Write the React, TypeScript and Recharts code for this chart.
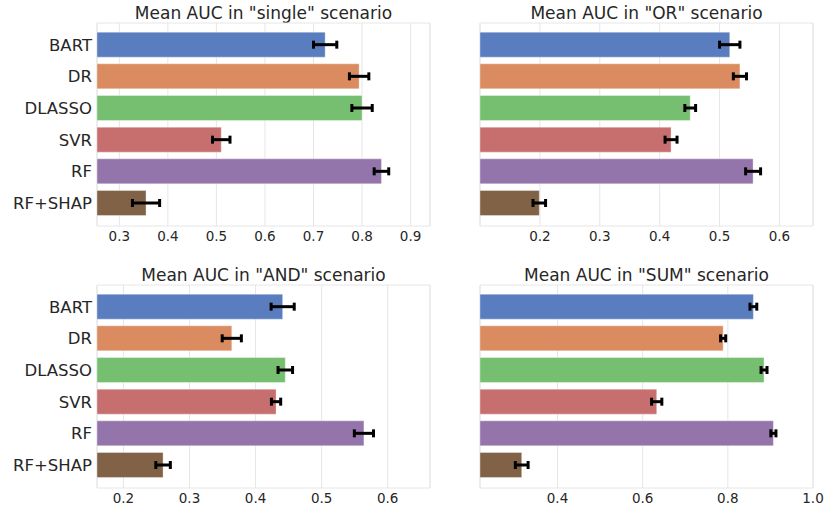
import React from 'react'
import { BarChart, Bar, XAxis, YAxis, CartesianGrid, ErrorBar, Cell } from 'recharts'

const categories = ['BART', 'DR', 'DLASSO', 'SVR', 'RF', 'RF+SHAP']

const singleMean = [0.724, 0.794, 0.8, 0.51, 0.84, 0.355]
const singleErr = [0.024, 0.02, 0.021, 0.018, 0.015, 0.028]
const orMean = [0.517, 0.534, 0.451, 0.419, 0.556, 0.199]
const orErr = [0.017, 0.011, 0.009, 0.01, 0.0125, 0.0105]
const andMean = [0.441, 0.364, 0.445, 0.431, 0.564, 0.26]
const andErr = [0.0175, 0.0145, 0.011, 0.007, 0.0145, 0.011]
const sumMean = [0.86, 0.789, 0.885, 0.633, 0.907, 0.316]
const sumErr = [0.008, 0.006, 0.007, 0.012, 0.006, 0.015]

const singleTicks = [0.3, 0.4, 0.5, 0.6, 0.7, 0.8, 0.9]
const orTicks = [0.2, 0.3, 0.4, 0.5, 0.6]
const andTicks = [0.2, 0.3, 0.4, 0.5, 0.6]
const sumTicks = [0.4, 0.6, 0.8, 1.0]

const COLORS = ['#597dbf', '#da8b5f', '#76bf71', '#c76e6e', '#9475ab', '#826246']
const FONT = '"DejaVu Sans", sans-serif'
const TEXT = '#262626'
const GRID = '#e6e6e6'

interface PanelProps {
  title: string
  means: number[]
  errs: number[]
  domain: [number, number]
  ticks: number[]
  left: number
  top: number
  showLabels: boolean
}

function Panel({ title, means, errs, domain, ticks, left, top, showLabels }: PanelProps) {
  const data = categories.map((name, i) => ({ name, value: means[i], err: errs[i] }))
  const yWidth = showLabels ? 97 : 40
  const chartW = showLabels ? 440 : 384
  const chartH = top === 0 ? 250 : 248
  const mTop = top === 0 ? 23 : 25
  const xHeight = chartH - mTop - 203
  const mRight = showLabels ? 10 : 11
  const plotW = chartW - yWidth - mRight

  return (
    <div style={{ position: 'absolute', left, top, width: chartW, height: chartH }}>
      <div
        style={{
          position: 'absolute',
          left: yWidth,
          width: plotW,
          top: mTop - 20,
          textAlign: 'center',
          fontFamily: FONT,
          fontSize: 17,
          lineHeight: '20px',
          color: TEXT,
          whiteSpace: 'nowrap',
        }}
      >
        {title}
      </div>
      <BarChart
        width={chartW}
        height={chartH}
        data={data}
        layout="vertical"
        margin={{ top: mTop, right: mRight, bottom: 0, left: 0 }}
        barCategoryGap="10%"
      >
        <CartesianGrid horizontal={false} stroke={GRID} strokeWidth={1} />
        <CartesianGrid
          stroke={GRID}
          strokeWidth={1}
          horizontalCoordinatesGenerator={({ offset }: any) => [offset.top, offset.top + offset.height]}
          verticalCoordinatesGenerator={({ offset }: any) => [offset.left, offset.left + offset.width]}
        />
        <XAxis
          type="number"
          domain={domain}
          ticks={ticks}
          interval={0}
          allowDataOverflow
          axisLine={false}
          tickLine={false}
          tickSize={0}
          tickMargin={5}
          height={xHeight}
          tickFormatter={(v: number) => v.toFixed(1)}
          tick={{ fill: TEXT, fontSize: 13.5, fontFamily: FONT }}
        />
        <YAxis
          type="category"
          dataKey="name"
          width={yWidth}
          axisLine={false}
          tickLine={false}
          tickSize={0}
          tickMargin={5}
          padding={{ top: 6, bottom: 7 }}
          tick={showLabels ? { fill: TEXT, fontSize: 16.5, fontFamily: FONT } : false}
        />
        <Bar dataKey="value" isAnimationActive={false} stroke="#ffffff" strokeOpacity={0.35} strokeWidth={1}>
          {data.map((_, i) => (
            <Cell key={`cell-${i}`} fill={COLORS[i % COLORS.length]} />
          ))}
          <ErrorBar dataKey="err" direction="x" stroke="#000000" strokeWidth={3} width={4} isAnimationActive={false} />
        </Bar>
      </BarChart>
    </div>
  )
}

export default function App() {
  return (
    <div style={{ position: 'absolute', left: 0, top: 0, width: 824, height: 508, background: '#ffffff' }}>
      <Panel title={'Mean AUC in "single" scenario'} means={singleMean} errs={singleErr} domain={[0.254, 0.94]} ticks={singleTicks} left={0} top={0} showLabels />
      <Panel title={'Mean AUC in "OR" scenario'} means={orMean} errs={orErr} domain={[0.1, 0.656]} ticks={orTicks} left={440} top={0} showLabels={false} />
      <Panel title={'Mean AUC in "AND" scenario'} means={andMean} errs={andErr} domain={[0.16, 0.664]} ticks={andTicks} left={0} top={260} showLabels />
      <Panel title={'Mean AUC in "SUM" scenario'} means={sumMean} errs={sumErr} domain={[0.218, 1.0]} ticks={sumTicks} left={440} top={260} showLabels={false} />
    </div>
  )
}
